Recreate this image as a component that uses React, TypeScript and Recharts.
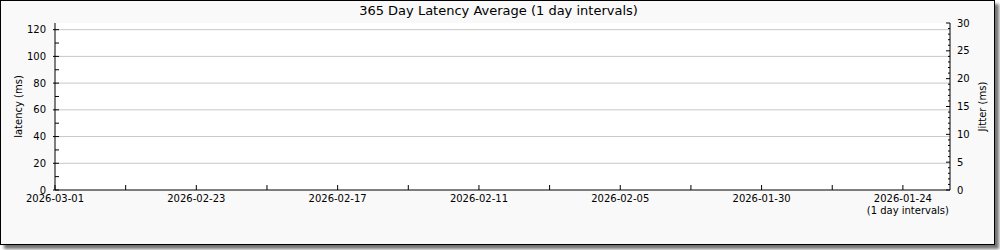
import React from "react";
import { ComposedChart, Line, XAxis, YAxis, CartesianGrid } from "recharts";

const TITLE = "365 Day Latency Average (1 day intervals)";
const X_NOTE = "(1 day intervals)";
const LEFT_TITLE = "latency (ms)";
const RIGHT_TITLE = "Jitter (ms)";

// Dates shown on the x axis, every 6 days, newest on the left
const dateLabels = ["2026-03-01", "2026-02-23", "2026-02-17", "2026-02-11", "2026-02-05", "2026-01-30", "2026-01-24"];
// Day offsets (days back from 2026-03-01) of the labels above
const dateDays = [0, 6, 12, 18, 24, 30, 36];
// All x tick positions (every 3 days)
const xTicks = [0, 3, 6, 9, 12, 15, 18, 21, 24, 27, 30, 33, 36];
const xDomain = [0, 38];

// No samples are drawn in the reference
const latencyValues: (number | null)[] = [null, null, null, null, null, null, null];
const jitterValues: (number | null)[] = [null, null, null, null, null, null, null];

const latencyTicks = [0, 10, 20, 30, 40, 50, 60, 70, 80, 90, 100, 110, 120];
const latencyGrid = [20, 40, 60, 80, 100, 120];
const latencyDomain = [0, 125];
const jitterTicks = [0, 1, 2, 3, 4, 5, 6, 7, 8, 9, 10, 11, 12, 13, 14, 15, 16, 17, 18, 19, 20, 21, 22, 23, 24, 25, 26, 27, 28, 29, 30];
const jitterDomain = [0, 30];

const data = dateDays.map((d, i) => ({
  day: d,
  date: dateLabels[i],
  latency: latencyValues[i],
  jitter: jitterValues[i],
}));

const FONT = "'DejaVu Sans', sans-serif";
const AXIS_Y = 190;

const XTick = (props: any) => {
  const { x, payload } = props;
  const v = payload.value as number;
  const idx = dateDays.indexOf(v);
  return (
    <g>
      <line x1={x} x2={x} y1={AXIS_Y - 5} y2={AXIS_Y} stroke="#000" strokeWidth={1} />
      {idx >= 0 && (
        <text x={x} y={AXIS_Y + 12} textAnchor="middle" fontSize={10} fontFamily={FONT} fill="#000">
          {dateLabels[idx]}
        </text>
      )}
    </g>
  );
};

const LeftTick = (props: any) => {
  const { x, y, payload } = props;
  const v = payload.value as number;
  const major = v % 20 === 0;
  return (
    <g>
      <line x1={major ? x - 2 : x} x2={x + 4} y1={y} y2={y} stroke="#000" strokeWidth={1} />
      {major && (
        <text x={x - 9} y={y + 3.5} textAnchor="end" fontSize={10} fontFamily={FONT} fill="#000">
          {v}
        </text>
      )}
    </g>
  );
};

const RightTick = (props: any) => {
  const { x, y, payload } = props;
  const v = payload.value as number;
  const major = v % 5 === 0;
  return (
    <g>
      <line x1={major ? x - 4 : x - 2} x2={x} y1={y} y2={y} stroke="#000" strokeWidth={1} />
      {major && (
        <text x={x + 7} y={y + 3.5} textAnchor="start" fontSize={10} fontFamily={FONT} fill="#000">
          {v}
        </text>
      )}
    </g>
  );
};

const LeftTitle = (props: any) => {
  const vb = props.viewBox || {};
  const cy = (vb.y ?? 23) + (vb.height ?? 167) / 2;
  return (
    <text x={18} y={cy} transform={`rotate(-90 18 ${cy})`} textAnchor="middle" dominantBaseline="central" fontSize={10} fontFamily={FONT} fill="#000">
      {LEFT_TITLE}
    </text>
  );
};

const RightTitle = (props: any) => {
  const vb = props.viewBox || {};
  const cy = (vb.y ?? 23) + (vb.height ?? 167) / 2;
  return (
    <text x={982.5} y={cy} transform={`rotate(-90 982.5 ${cy})`} textAnchor="middle" dominantBaseline="central" fontSize={10} fontFamily={FONT} fill="#000">
      {RIGHT_TITLE}
    </text>
  );
};

const XNote = (props: any) => {
  return (
    <text x={949} y={AXIS_Y + 24} textAnchor="end" fontSize={10} fontFamily={FONT} fill="#000">
      {X_NOTE}
    </text>
  );
};

export default function App() {
  return (
    <div style={{ position: "absolute", left: 0, top: 0, width: 1000, height: 250, fontFamily: FONT }}>
      <div
        style={{
          position: "absolute",
          left: 0,
          top: 0,
          width: 995,
          height: 245,
          boxSizing: "border-box",
          border: "1px solid #000",
          background: "#f9f9f9",
          boxShadow: "4px 4px 3px rgba(0,0,0,0.55)",
        }}
      />
      <div
        style={{
          position: "absolute",
          left: 0,
          top: 2,
          width: 997,
          textAlign: "center",
          fontSize: 13,
          lineHeight: "18px",
          color: "#000",
          fontFamily: FONT,
        }}
      >
        {TITLE}
      </div>
      <div style={{ position: "absolute", left: 0, top: 0 }}>
        <ComposedChart width={1000} height={250} data={data} margin={{ top: 23, right: 49, bottom: 59, left: 54 }}>
          <CartesianGrid yAxisId="lat" vertical={false} horizontal={true} fill="#ffffff" stroke="#c8c8c8" horizontalValues={latencyGrid} />
          <XAxis
            dataKey="day"
            type="number"
            domain={xDomain}
            ticks={xTicks}
            allowDataOverflow
            height={1}
            tickSize={0}
            tickMargin={0}
            tickLine={false}
            stroke="#000"
            tick={<XTick />}
            interval={0}
            label={<XNote />}
          />
          <YAxis
            yAxisId="lat"
            orientation="left"
            domain={latencyDomain}
            ticks={latencyTicks}
            allowDataOverflow
            width={1}
            tickSize={0}
            tickMargin={0}
            tickLine={false}
            stroke="#000"
            tick={<LeftTick />}
            interval={0}
            label={<LeftTitle />}
          />
          <YAxis
            yAxisId="jit"
            orientation="right"
            domain={jitterDomain}
            ticks={jitterTicks}
            allowDataOverflow
            width={1}
            tickSize={0}
            tickMargin={0}
            tickLine={false}
            stroke="#000"
            tick={<RightTick />}
            interval={0}
            label={<RightTitle />}
          />
          <Line yAxisId="lat" type="linear" dataKey="latency" stroke="#0000ff" dot={false} isAnimationActive={false} connectNulls={false} />
          <Line yAxisId="jit" type="linear" dataKey="jitter" stroke="#ff0000" dot={false} isAnimationActive={false} connectNulls={false} />
        </ComposedChart>
      </div>
    </div>
  );
}
